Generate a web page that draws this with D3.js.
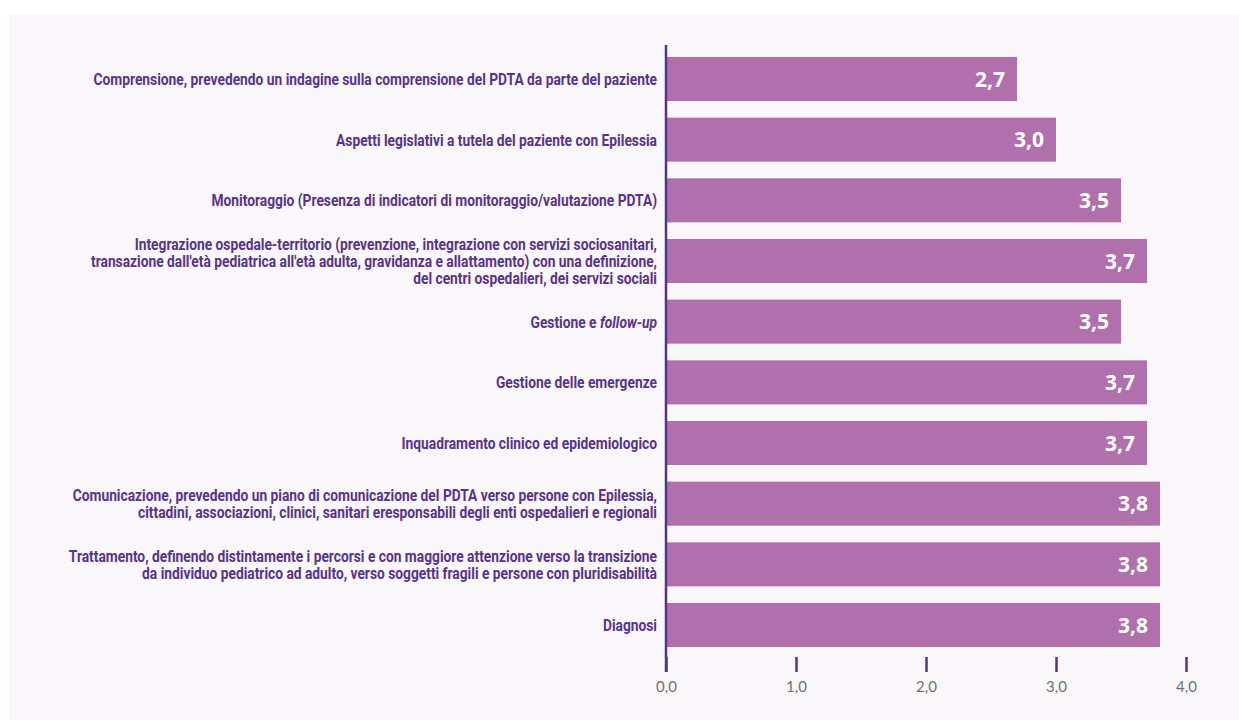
<!DOCTYPE html>
<html>
<head>
<meta charset="utf-8">
<script src="https://cdn.jsdelivr.net/npm/d3@7"></script>
<style>
  html, body { margin: 0; padding: 0; background: #ffffff; }
  svg { display: block; }
</style>
</head>
<body>
<svg id="chart" width="1239" height="720"></svg>
<script>
// Category labels (line breaks marked with \n), top to bottom
const categories = [
  "Comprensione, prevedendo un indagine sulla comprensione del PDTA da parte del paziente",
  "Aspetti legislativi a tutela del paziente con Epilessia",
  "Monitoraggio (Presenza di indicatori di monitoraggio/valutazione PDTA)",
  "Integrazione ospedale-territorio (prevenzione, integrazione con servizi sociosanitari,\ntransazione dall'età pediatrica all'età adulta, gravidanza e allattamento) con una definizione,\ndel centri ospedalieri, dei servizi sociali",
  "Gestione e follow-up",
  "Gestione delle emergenze",
  "Inquadramento clinico ed epidemiologico",
  "Comunicazione, prevedendo un piano di comunicazione del PDTA verso persone con Epilessia,\ncittadini, associazioni, clinici, sanitari eresponsabili degli enti ospedalieri e regionali",
  "Trattamento, definendo distintamente i percorsi e con maggiore attenzione verso la transizione\nda individuo pediatrico ad adulto, verso soggetti fragili e persone con pluridisabilità",
  "Diagnosi"
];
// Mean scores
const scores = [2.7, 3.0, 3.5, 3.7, 3.5, 3.7, 3.7, 3.8, 3.8, 3.8];
// Axis ticks
const tickValues = [0, 1, 2, 3, 4];
// Terms set in italics inside labels
const italicTerms = ["follow-up"];

const svg = d3.select("#chart");
const purple = "#55338f";
const barColor = "#b070ab";
const fmt = v => d3.format(".1f")(v).replace(".", ",");

// panel background
svg.append("rect")
  .attr("x", 9).attr("y", 15)
  .attr("width", 1230).attr("height", 705)
  .attr("fill", "#f9f7fa");

const x = d3.scaleLinear().domain([0, 4]).range([666, 1186]);
const y = d3.scaleBand()
  .domain(categories)
  .range([48.67, 655.33])
  .paddingInner(0.2747)
  .paddingOuter(0.1374);

// bars
svg.append("g").selectAll("rect")
  .data(categories)
  .join("rect")
  .attr("x", x(0))
  .attr("y", d => y(d))
  .attr("width", (d, i) => x(scores[i]) - x(0))
  .attr("height", y.bandwidth())
  .attr("fill", barColor);

// value labels inside bars
svg.append("g").selectAll("text")
  .data(categories)
  .join("text")
  .attr("x", (d, i) => x(scores[i]) - 12)
  .attr("y", d => y(d) + y.bandwidth() / 2)
  .attr("dy", "0.36em")
  .attr("text-anchor", "end")
  .attr("fill", "#ffffff")
  .style("font-family", "'Open Sans', Lato, sans-serif")
  .style("font-weight", 700)
  .style("font-size", "21px")
  .text((d, i) => fmt(scores[i]));

// category labels, condensed horizontally
const labelG = svg.append("g");
const lineH = 17.5;
const labels = labelG.selectAll("text")
  .data(categories)
  .join("text")
  .attr("text-anchor", "end")
  .attr("fill", purple)
  .style("font-family", "Roboto, 'Noto Sans', sans-serif")
  .style("font-weight", 700)
  .style("font-size", "16px");

labels.each(function (d) {
  const t = d3.select(this);
  const lines = d.split("\n");
  const offset0 = -(lines.length - 1) / 2 * lineH;
  lines.forEach((line, li) => {
    // split line around italic terms
    const term = italicTerms.find(tt => line.includes(tt));
    const parts = term
      ? line.split(term).flatMap((p, pi, arr) => pi < arr.length - 1 ? [[p, false], [term, true]] : [[p, false]])
      : [[line, false]];
    parts.filter(p => p[0].length).forEach((p, pi) => {
      const ts = t.append("tspan").text(p[0]).style("font-style", p[1] ? "italic" : "normal");
      if (pi === 0) ts.attr("x", 0).attr("dy", li === 0 ? offset0 + "px" : lineH + "px");
    });
  });
});

// horizontal compression so the longest single line spans its width
const refWidth = labels.nodes()[0].getComputedTextLength();
const k = 564 / refWidth;
labels.attr("transform", d => `translate(657,${y(d) + y.bandwidth() / 2 + 6}) scale(${k},1)`);

// axis
const axisY = 657;
const axis = svg.append("g")
  .attr("transform", `translate(0,${axisY})`)
  .call(d3.axisBottom(x).tickValues(tickValues).tickSize(15).tickPadding(9).tickFormat(fmt));
axis.select(".domain").remove();
axis.selectAll(".tick line").attr("stroke", purple).attr("stroke-width", 2.5);
axis.selectAll(".tick text")
  .attr("fill", "#707070")
  .style("font-family", "Lato, 'Open Sans', sans-serif")
  .style("font-weight", 400)
  .style("font-size", "15px");

// vertical baseline
svg.append("line")
  .attr("x1", x(0)).attr("x2", x(0))
  .attr("y1", 45).attr("y2", axisY + 15)
  .attr("stroke", purple)
  .attr("stroke-width", 2.5);
</script>
</body>
</html>
